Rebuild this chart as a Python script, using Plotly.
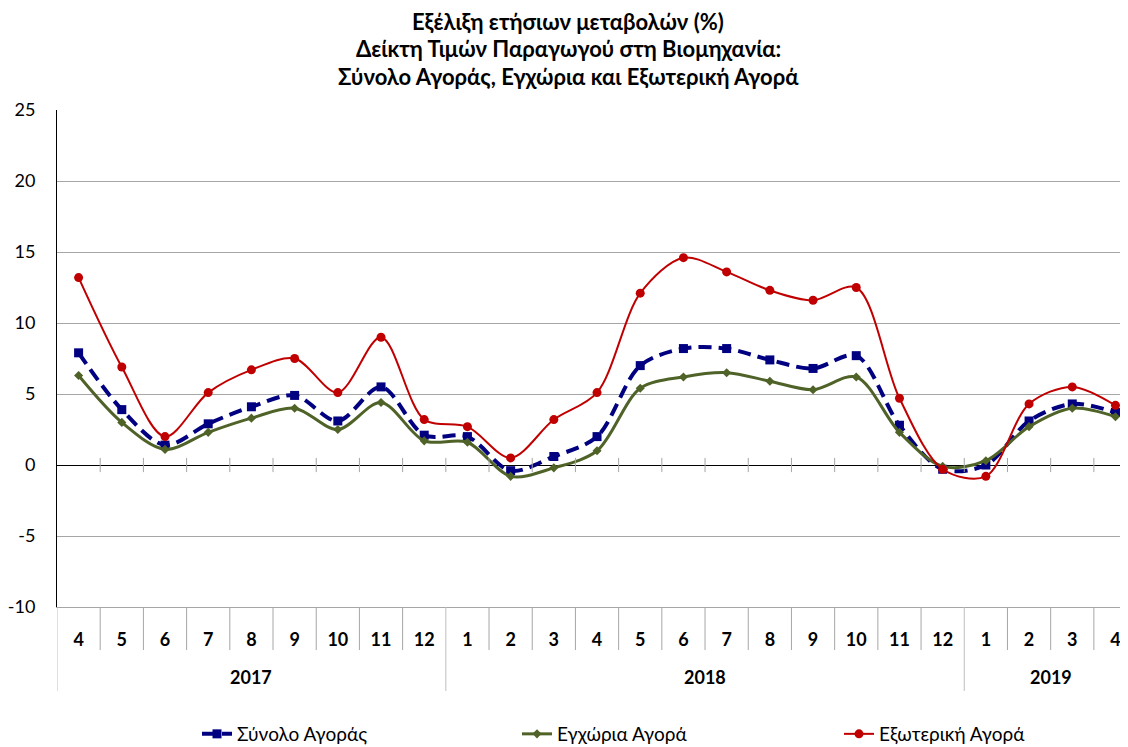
import plotly.graph_objects as go

months = ["4", "5", "6", "7", "8", "9", "10", "11", "12",
          "1", "2", "3", "4", "5", "6", "7", "8", "9", "10", "11", "12",
          "1", "2", "3", "4"]
years = ["2017", "2018", "2019"]
year_counts = [9, 12, 4]
y_ticks = [-10, -5, 0, 5, 10, 15, 20, 25]
y_tick_labels = ["-10", "-5", "0", "5", "10", "15", "20", "25"]

total_market = [7.9, 3.9, 1.4, 2.9, 4.1, 4.9, 3.1, 5.5, 2.1,
                2.0, -0.4, 0.6, 2.0, 7.0, 8.2, 8.2, 7.4, 6.8, 7.7, 2.8, -0.3,
                0.0, 3.1, 4.3, 3.7]
domestic_market = [6.3, 3.0, 1.1, 2.3, 3.3, 4.0, 2.5, 4.4, 1.7,
                   1.6, -0.8, -0.2, 1.0, 5.4, 6.2, 6.5, 5.9, 5.3, 6.2, 2.3, -0.1,
                   0.3, 2.7, 4.0, 3.4]
external_market = [13.2, 6.9, 2.0, 5.1, 6.7, 7.5, 5.1, 9.0, 3.2,
                   2.7, 0.5, 3.2, 5.1, 12.1, 14.6, 13.6, 12.3, 11.6, 12.5, 4.7, -0.3,
                   -0.8, 4.3, 5.5, 4.2]

series_names = ["Σύνολο Αγοράς", "Εγχώρια Αγορά", "Εξωτερική Αγορά"]
title_lines = ["Εξέλιξη ετήσιων μεταβολών (%)",
               "Δείκτη Τιμών Παραγωγού στη Βιομηχανία:",
               "Σύνολο Αγοράς, Εγχώρια και Εξωτερική Αγορά"]

FONT = "Lato"
OFF = 8  # page body margin in the browser
W, H = 1128 - OFF, 747 - OFF
PLOT_L, PLOT_T, PLOT_B = 57, 110, 607  # target screenshot pixels
ML = PLOT_L - OFF
MT = PLOT_T - OFF
MB = H - (PLOT_B - OFF)
MR = 0
PW = W - ML - MR
PH = H - MT - MB
x = list(range(len(months)))


def px_x(px):
    return (px - OFF - ML) / PW


def px_y(py):
    return (PLOT_B - py) / PH


fig = go.Figure()
fig.add_trace(go.Scatter(
    x=x, y=total_market, name=series_names[0], mode="lines+markers", legend="legend",
    line=dict(color="#000080", width=4, dash="13px,7px", shape="spline", smoothing=0.9),
    marker=dict(symbol="square", size=9, color="#000080"),
))
fig.add_trace(go.Scatter(
    x=x, y=domestic_market, name=series_names[1], mode="lines+markers", legend="legend2",
    line=dict(color="#4F6228", width=3, shape="spline", smoothing=0.9),
    marker=dict(symbol="diamond", size=7, color="#4F6228"),
))
fig.add_trace(go.Scatter(
    x=x, y=external_market, name=series_names[2], mode="lines+markers", legend="legend3",
    line=dict(color="#C00000", width=2, shape="spline", smoothing=0.9),
    marker=dict(symbol="circle", size=9, color="#C00000"),
))

shapes = []
grey = "#A6A6A6"
n = len(months)
for i in range(n):
    b = i + 0.5
    shapes.append(dict(type="line", xref="x", yref="y", x0=b, x1=b, y0=-0.5, y1=0.5,
                       line=dict(color=grey, width=1)))
year_bounds = [-0.5]
acc = -0.5
for c in year_counts:
    acc += c
    year_bounds.append(acc)
for i in range(n):
    b = i - 0.5
    is_year = any(abs(b - yb) < 1e-9 for yb in year_bounds)
    shapes.append(dict(type="line", xref="x", yref="paper", x0=b, x1=b,
                       y0=px_y(650) if not is_year else px_y(691), y1=0,
                       line=dict(color=grey if not is_year else "#BFBFBF", width=1)))

annotations = []
start = 0
for yname, c in zip(years, year_counts):
    center = start + (c - 1) / 2
    annotations.append(dict(x=center, y=px_y(677), xref="x", yref="paper", text="<b>" + yname + "</b>",
                            showarrow=False, font=dict(family=FONT, size=18, color="black"),
                            yanchor="middle"))
    start += c
for k, (line, py) in enumerate(zip(title_lines, [21, 49, 77])):
    annotations.append(dict(x=px_x(568), y=px_y(py), xref="paper", yref="paper",
                            text="<b>" + line + "</b>", showarrow=False,
                            font=dict(family=FONT, size=22, color="black"),
                            xanchor="center", yanchor="middle"))

legend_common = dict(orientation="h", yanchor="middle", bgcolor="rgba(0,0,0,0)",
                     font=dict(family=FONT, size=19, color="black"))

fig.update_layout(
    width=W, height=H,
    margin=dict(l=ML, r=MR, t=MT, b=MB, autoexpand=False),
    plot_bgcolor="white", paper_bgcolor="white",
    font=dict(family=FONT, color="black"),
    xaxis=dict(
        range=[-0.5, 24.29], tickmode="array", tickvals=x, ticktext=["<b>" + m + "</b>" for m in months],
        tickfont=dict(family=FONT, size=18, color="black"),
        ticks="outside", ticklen=16, tickcolor="rgba(0,0,0,0)",
        showgrid=False, zeroline=False, showline=True, linecolor=grey, linewidth=1,
        automargin=False,
    ),
    yaxis=dict(
        range=[-10, 25], tickmode="array", tickvals=y_ticks, ticktext=y_tick_labels,
        tickfont=dict(family=FONT, size=18, color="black"),
        showgrid=True, gridcolor=grey, gridwidth=1,
        zeroline=True, zerolinecolor="black", zerolinewidth=1,
        showline=True, linecolor="black", linewidth=1,
        ticks="outside", ticklen=17, tickcolor="rgba(0,0,0,0)",
        automargin=False,
    ),
    legend=dict(x=px_x(197), y=px_y(734), xanchor="left", **legend_common),
    legend2=dict(x=px_x(517), y=px_y(734), xanchor="left", **legend_common),
    legend3=dict(x=px_x(839), y=px_y(734), xanchor="left", **legend_common),
    shapes=shapes, annotations=annotations,
    showlegend=True,
)

fig.write_html("out.html")
